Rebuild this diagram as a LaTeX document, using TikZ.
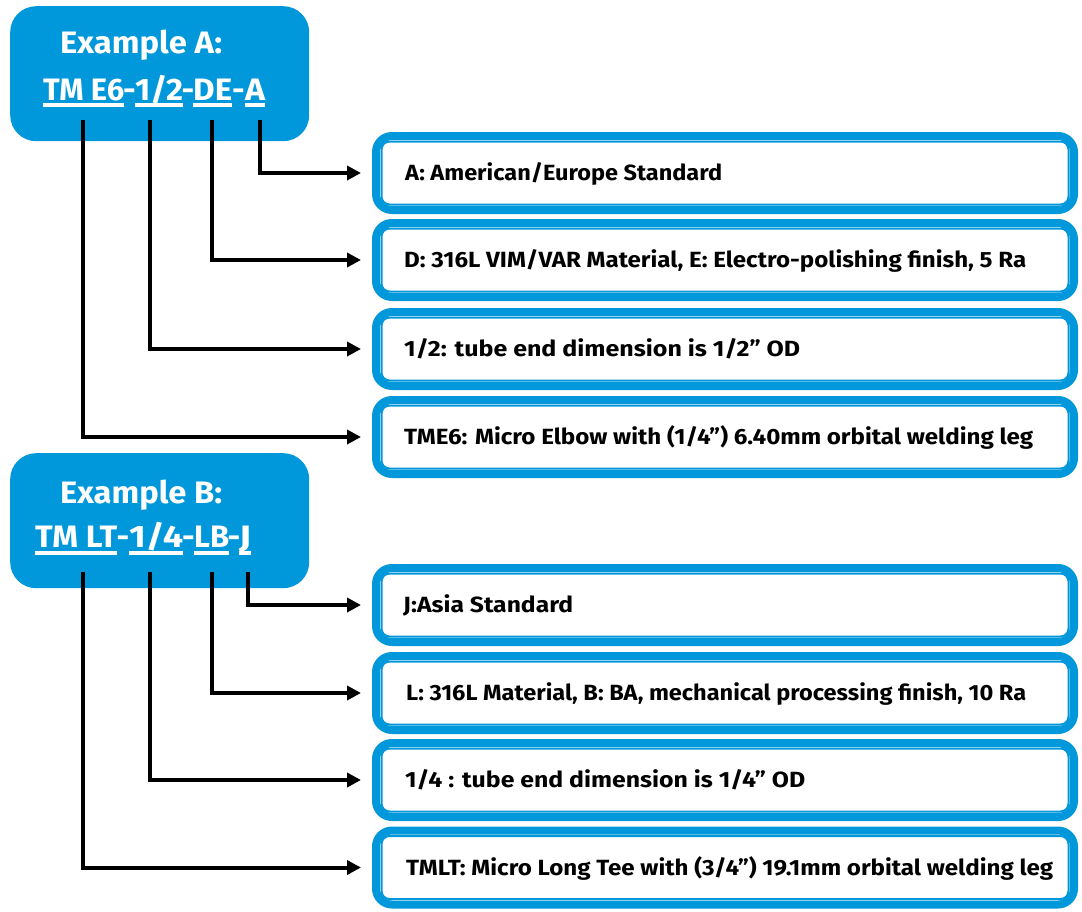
\documentclass[tikz,border=0pt]{standalone}
\usepackage{fontspec}
\setmainfont{Fira Sans}
\usetikzlibrary{arrows.meta}
\definecolor{cblue}{RGB}{0,152,218}
\newsavebox\fitbox
\newcommand\fitto[2]{\sbox\fitbox{#2}\pgfmathsetmacro\fitfac{(#1)/\wd\fitbox}\scalebox{\fitfac}[1]{\usebox\fitbox}}
\begin{document}
\begin{tikzpicture}[x=1pt,y=-1pt,
  exbox/.style={fill=cblue, rounded corners=26pt, draw=none, minimum width=299pt, minimum height=135pt, inner sep=0pt, anchor=north west},
  titletext/.style={text=white, font=\fontsize{31}{31}\selectfont\bfseries, inner sep=0pt, anchor=base west},
  descbox/.style={draw=cblue, line width=8pt, rounded corners=16pt, minimum width=698pt, minimum height=74pt, inner sep=0pt, fill=white},
  innerline/.style={draw=cblue, line width=2pt, rounded corners=8pt},
  desctext/.style={font=\fontsize{22}{22}\selectfont\bfseries, inner sep=0pt, anchor=base west, text=black},
  conn/.style={line width=4pt, -{Triangle[length=14pt,width=14pt]}, shorten >=11pt},
  uline/.style={white, line width=3.5pt}
]
\path[fill=white, use as bounding box] (0,0) rectangle (1082,911);

% ---------- Example A ----------
\node[exbox] (exA) at (10,6) {};
\node[titletext] (tA) at (60,53) {\fitto{162pt}{Example A:}};
\node[titletext] (cA1) at (43,100) {\fitto{81pt}{TM E6}};
\node[titletext, anchor=base] (hA1) at (129.5,100) {-};
\node[titletext] (cA2) at (135,100) {\fitto{48pt}{1/2}};
\node[titletext, anchor=base] (hA2) at (188,100) {-};
\node[titletext] (cA3) at (193,100) {\fitto{39pt}{DE}};
\node[titletext, anchor=base] (hA3) at (238.5,100) {-};
\node[titletext] (cA4) at (245,100) {\fitto{20pt}{A}};
\foreach \n in {cA1,cA2,cA3,cA4}
  \draw[uline] ([yshift=-5pt]\n.base west) -- ([yshift=-5pt]\n.base east);

\node[descbox] (bA1) at (725,173) {};
\node[descbox] (bA2) at (725,260) {};
\node[descbox] (bA3) at (725,349) {};
\node[descbox] (bA4) at (725,437) {};

\node[desctext] (dA1) at (405,180.5) {\fitto{317pt}{A: American/Europe Standard}};
\node[desctext] (dA2) at (404,267.5) {\fitto{622pt}{D: 316L VIM/VAR Material, E: Electro-polishing finish, 5 Ra}};
\node[desctext] (dA3) at (404,356.5) {\fitto{396pt}{1/2: tube end dimension is 1/2” OD}};
\node[desctext] (dA4) at (404,444.5) {\fitto{629pt}{TME6: Micro Elbow with (1/4”) 6.40mm orbital welding leg}};

\coordinate (sA1) at (260,120);
\coordinate (sA2) at (212,120);
\coordinate (sA3) at (150,120);
\coordinate (sA4) at (83,120);
\draw[conn] (sA1) |- (bA1.west);
\draw[conn] (sA2) |- (bA2.west);
\draw[conn] (sA3) |- (bA3.west);
\draw[conn] (sA4) |- (bA4.west);

% ---------- Example B ----------
\node[exbox] (exB) at (10,453) {};
\node[titletext] (tB) at (60,503) {\fitto{162pt}{Example B:}};
\node[titletext] (cB1) at (35,547) {\fitto{82pt}{TM LT}};
\node[titletext, anchor=base] (hB1) at (123,547) {-};
\node[titletext] (cB2) at (129,547) {\fitto{54pt}{1/4}};
\node[titletext, anchor=base] (hB2) at (188.5,547) {-};
\node[titletext] (cB3) at (194,547) {\fitto{35pt}{LB}};
\node[titletext, anchor=base] (hB3) at (234,547) {-};
\node[titletext] (cB4) at (239,547) {\fitto{12pt}{J}};
\foreach \n in {cB1,cB2,cB3,cB4}
  \draw[uline] ([yshift=-6pt]\n.base west) -- ([yshift=-6pt]\n.base east);

\node[descbox] (bB1) at (725,605) {};
\node[descbox] (bB2) at (725,693) {};
\node[descbox] (bB3) at (725,780) {};
\node[descbox] (bB4) at (725,867.5) {};

\node[desctext] (dB1) at (403,612.5) {\fitto{170pt}{J:Asia Standard}};
\node[desctext] (dB2) at (406,700.5) {\fitto{620pt}{L: 316L Material, B: BA, mechanical processing finish, 10 Ra}};
\node[desctext] (dB3) at (405,787.5) {\fitto{400pt}{1/4 : tube end dimension is 1/4” OD}};
\node[desctext] (dB4) at (406,875) {\fitto{647pt}{TMLT: Micro Long Tee with (3/4”) 19.1mm orbital welding leg}};

\coordinate (sB1) at (248,572);
\coordinate (sB2) at (212,572);
\coordinate (sB3) at (150,572);
\coordinate (sB4) at (83,572);
\draw[conn] (sB1) |- (bB1.west);
\draw[conn] (sB2) |- (bB2.west);
\draw[conn] (sB3) |- (bB3.west);
\draw[conn] (sB4) |- (bB4.west);

% inner thin borders
\foreach \n in {bA1,bA2,bA3,bA4,bB1,bB2,bB3,bB4}
  \draw[innerline] ([xshift=9.5pt,yshift=-9.5pt]\n.north west) rectangle ([xshift=-9.5pt,yshift=9.5pt]\n.south east);
\end{tikzpicture}
\end{document}
